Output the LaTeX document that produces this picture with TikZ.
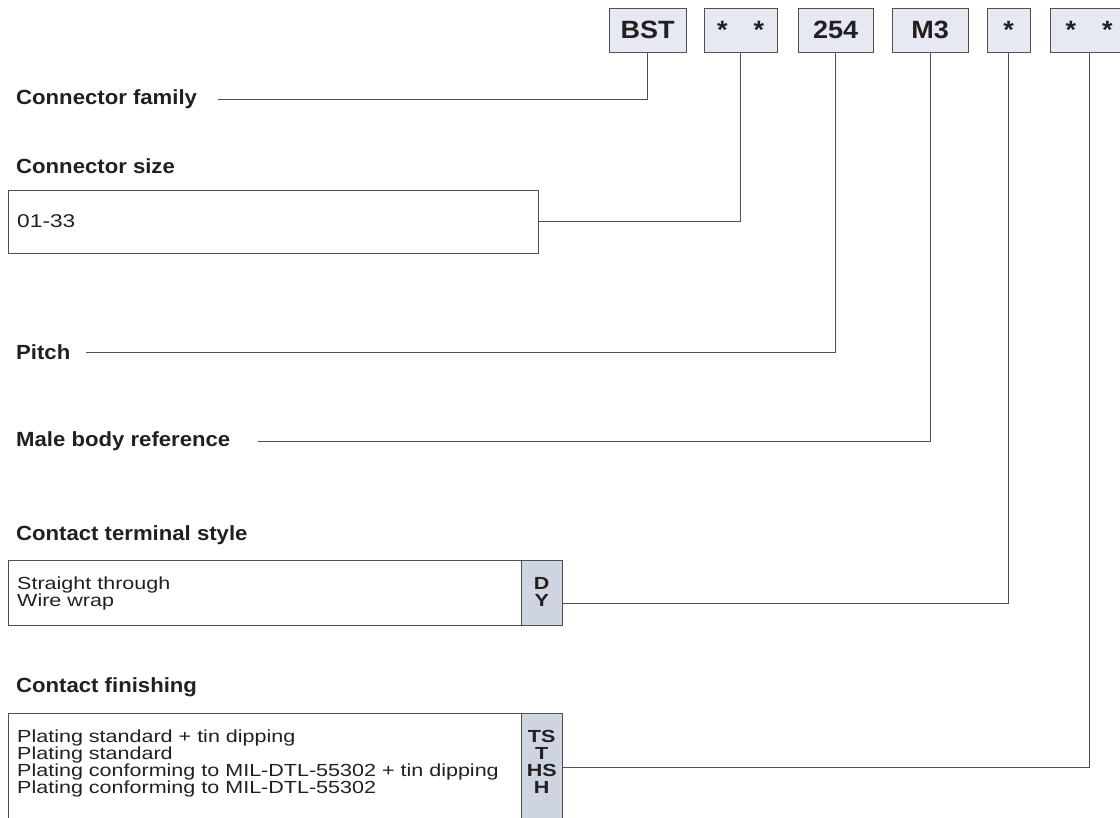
\documentclass[tikz,border=0pt]{standalone}
\usepackage{fontspec}
\setmainfont[FakeStretch=1.08]{Liberation Sans}
\newfontfamily\listfont[FakeStretch=1.23]{Liberation Sans}
\definecolor{codefill}{HTML}{E6E9F1}
\definecolor{keyfill}{HTML}{CED4E0}
\definecolor{rulegray}{HTML}{505050}
\definecolor{inkgray}{HTML}{231F20}
\newcommand{\codestar}{\raisebox{-5pt}{*}}
\newcommand{\tightlines}{\lineskiplimit=-20pt\relax}
\begin{document}
\begin{tikzpicture}
    [x=1pt, y=-1pt, text=inkgray,
     codebox/.style={draw=rulegray, fill=codefill, anchor=north west, inner sep=0pt,
                     minimum height=44pt, font=\fontsize{25}{25}\selectfont\bfseries},
     heading/.style={anchor=west, inner sep=0pt, font=\fontsize{20.5}{20}\selectfont\bfseries},
     optbox/.style={draw=rulegray, anchor=north west, inner sep=0pt},
     keybox/.style={draw=rulegray, fill=keyfill, anchor=north east, inner sep=0pt},
     keytext/.style={anchor=north, inner sep=0pt, align=center,
                     font=\listfont\fontsize{17.5}{17}\selectfont\bfseries\tightlines},
     opttext/.style={anchor=north west, inner sep=0pt, align=left,
                     font=\listfont\fontsize{17.5}{17}\selectfont\tightlines},
     wire/.style={draw=rulegray, line width=0.9pt}]

    \useasboundingbox (0, 0) rectangle (1120, 818);

    \node [codebox, minimum width=77] at (609, 8) (cfam) {BST};
    \node [codebox, minimum width=73] at (704, 8) (csize) {\codestar\hspace{26pt}\codestar};
    \node [codebox, minimum width=75] at (798, 8) (cpitch) {254};
    \node [codebox, minimum width=76] at (892, 8) (cbody) {M3};
    \node [codebox, minimum width=43] at (987, 8) (cterm) {\codestar};
    \node [codebox, minimum width=78] at (1050, 8) (cfin) {\codestar\hspace{26pt}\codestar};

    \node [heading] at (16,  99) (hfam)   {Connector family};
    \node [heading] at (16, 166) (hsize)  {Connector size};
    \node [heading] at (16, 352) (hpitch) {Pitch};
    \node [heading] at (16, 441) (hbody)  {Male body reference};
    \node [heading] at (16, 535) (hterm)  {Contact terminal style};
    \node [heading] at (16, 687) (hfin)   {Contact finishing};

    \coordinate (famtip)   at (218,  99);
    \coordinate (pitchtip) at (86,  352);
    \coordinate (bodytip)  at (258, 441);

    \node [optbox, minimum width=530, minimum height=63] at (8, 190) (osize) {};
    \node [anchor=west, inner sep=0pt, font=\listfont\fontsize{18.5}{18}\selectfont] at (17, 221) (tsize) {01-33};

    \node [optbox, minimum width=554, minimum height=65] at (8, 560) (oterm) {};
    \node [keybox, minimum width=41, minimum height=65] at (oterm.north east) (kterm) {};
    \node [keytext] at ([yshift=-17pt]kterm.north) (lterm) {D\\Y};
    \node [opttext] at (17, 577) (tterm) {Straight through\\Wire wrap};

    \node [optbox, minimum width=554, minimum height=108] at (8, 713) (ofin) {};
    \node [keybox, minimum width=41, minimum height=108] at (ofin.north east) (kfin) {};
    \node [keytext] at ([yshift=-17pt]kfin.north) (lfin) {TS\\T\\HS\\H};
    \node [opttext] at (17, 730) (tfin) {Plating standard + tin dipping\\Plating standard\\
      Plating conforming to MIL-DTL-55302 + tin dipping\\Plating conforming to MIL-DTL-55302};

    \draw [wire] (cfam.south) |- (famtip);
    \draw [wire] (csize.south) |- (osize.east);
    \draw [wire] (cpitch.south) |- (pitchtip);
    \draw [wire] (cbody.south) |- (bodytip);
    \draw [wire] (cterm.south) |- ([yshift=-10.5pt]kterm.east);
    \draw [wire] (cfin.south) |- (kfin.east);

  \end{tikzpicture}
\end{document}
